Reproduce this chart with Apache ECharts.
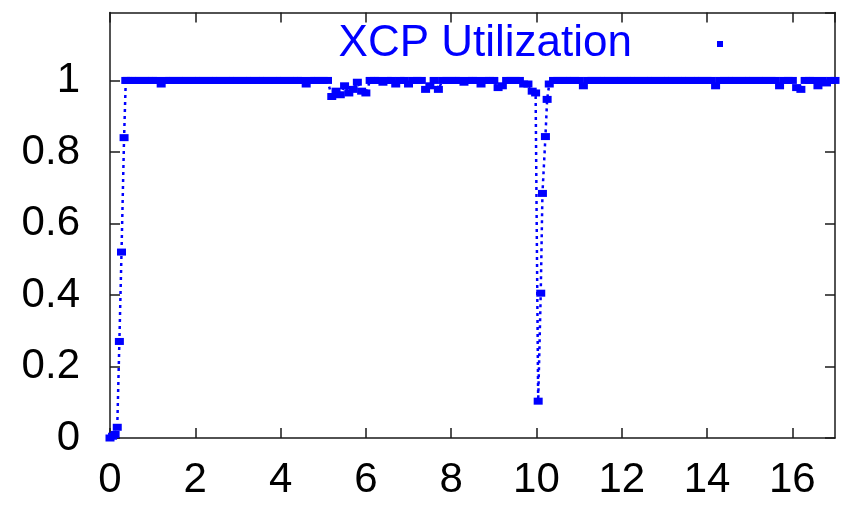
<!DOCTYPE html>
<html>
<head>
<meta charset="utf-8">
<script src="https://cdn.jsdelivr.net/npm/echarts@6/dist/echarts.min.js"></script>
<style>
  html, body { margin: 0; padding: 0; background: #fff; }
  #chart { width: 846px; height: 514px; }
</style>
</head>
<body>
<div id="chart"></div>
<script>
// Time (s) of each sample
const timeSec = [
  0, 0.06, 0.12, 0.17, 0.22, 0.27, 0.33, 0.37,
  0.4, 0.5, 0.6, 0.7, 0.8, 0.9,
  1.0, 1.1, 1.2, 1.3, 1.4, 1.5, 1.6, 1.7, 1.8, 1.9,
  2.0, 2.1, 2.2, 2.3, 2.4, 2.5, 2.6, 2.7, 2.8, 2.9,
  3.0, 3.1, 3.2, 3.3, 3.4, 3.5, 3.6, 3.7, 3.8, 3.9,
  4.0, 4.1, 4.2, 4.3, 4.4, 4.5, 4.6, 4.7, 4.8, 4.9,
  5.0, 5.1, 5.2, 5.3, 5.4, 5.5, 5.6, 5.7, 5.8, 5.9,
  6.0, 6.1, 6.2, 6.3, 6.4, 6.5, 6.6, 6.7, 6.8, 6.9,
  7.0, 7.1, 7.2, 7.3, 7.4, 7.5, 7.6, 7.7, 7.8, 7.9,
  8.0, 8.1, 8.2, 8.3, 8.4, 8.5, 8.6, 8.7, 8.8, 8.9,
  9.0, 9.1, 9.2, 9.3, 9.4, 9.5, 9.6, 9.7, 9.8, 9.9,
  9.98, 10.04, 10.1, 10.14, 10.21, 10.25, 10.3,
  10.4, 10.5, 10.6, 10.7, 10.8, 10.9,
  11.0, 11.1, 11.2, 11.3, 11.4, 11.5, 11.6, 11.7, 11.8, 11.9,
  12.0, 12.1, 12.2, 12.3, 12.4, 12.5, 12.6, 12.7, 12.8, 12.9,
  13.0, 13.1, 13.2, 13.3, 13.4, 13.5, 13.6, 13.7, 13.8, 13.9,
  14.0, 14.1, 14.2, 14.3, 14.4, 14.5, 14.6, 14.7, 14.8, 14.9,
  15.0, 15.1, 15.2, 15.3, 15.4, 15.5, 15.6, 15.7, 15.8, 15.9,
  16.0, 16.1, 16.2, 16.3, 16.4, 16.5, 16.6, 16.7, 16.8, 16.9,
  17.0
];

// XCP utilization at each sample
const utilization = [
  0, 0.005, 0.01, 0.03, 0.27, 0.52, 0.84, 1.0,
  1, 1, 1, 1, 1, 1,
  1, 1, 0.99, 1, 1, 1, 1, 1, 1, 1,
  1, 1, 1, 1, 1, 1, 1, 1, 1, 1,
  1, 1, 1, 1, 1, 1, 1, 1, 1, 1,
  1, 1, 1, 1, 1, 1, 0.99, 1, 1, 1,
  1, 1, 0.955, 0.97, 0.96, 0.985, 0.965, 0.975, 0.995, 0.97,
  0.965, 1, 1, 1, 0.995, 1, 1, 0.99, 1, 1,
  0.99, 1, 1, 1, 0.975, 0.985, 1, 0.975, 1, 1,
  1, 1, 1, 0.995, 1, 1, 1, 0.99, 1, 1,
  1, 0.98, 0.985, 1, 1, 1, 1, 0.99, 0.99, 0.97,
  0.965, 0.103, 0.405, 0.684, 0.843, 0.947, 0.99,
  1, 1, 1, 1, 1, 1,
  1, 0.985, 1, 1, 1, 1, 1, 1, 1, 1,
  1, 1, 1, 1, 1, 1, 1, 1, 1, 1,
  1, 1, 1, 1, 1, 1, 1, 1, 1, 1,
  1, 1, 0.985, 1, 1, 1, 1, 1, 1, 1,
  1, 1, 1, 1, 1, 1, 1, 0.985, 1, 1,
  1, 0.98, 0.975, 1, 1, 1, 0.985, 1, 0.993, 1,
  1
];

const seriesName = 'XCP Utilization';
const xRange = [0, 17];
const xStep = 2;
const yRange = [0, 1.19];
const yStep = 0.2;

const BLUE = '#0000ff';
const AXIS = '#1a1a1a';
const FONT = '"Liberation Sans", Arial, Helvetica, sans-serif';

const chart = echarts.init(document.getElementById('chart'), null, { renderer: 'canvas' });

const pts = timeSec.map((t, i) => [t, utilization[i]]);

const axisCommon = {
  axisLine: { show: true, onZero: false, lineStyle: { color: AXIS, width: 1.5 } },
  axisTick: { show: true, inside: true, length: 10, lineStyle: { color: AXIS, width: 1.5 } },
  splitLine: { show: false }
};

chart.setOption({
  animation: false,
  backgroundColor: '#ffffff',
  grid: { left: 110, right: 11, top: 12.5, bottom: 76, containLabel: false },
  legend: {
    show: true,
    data: [seriesName],
    right: 123,
    top: 22,
    padding: 0,
    align: 'right',
    icon: 'rect',
    itemWidth: 6,
    itemHeight: 6,
    selectedMode: false,
    textStyle: { color: BLUE, fontSize: 44, fontFamily: FONT, padding: [0, 80, 0, 0] }
  },
  xAxis: [
    Object.assign({}, axisCommon, {
      type: 'value', position: 'bottom', min: xRange[0], max: xRange[1], interval: xStep,
      axisLabel: { show: true, showMaxLabel: false, margin: 21, color: '#000', fontSize: 42, fontFamily: FONT }
    }),
    Object.assign({}, axisCommon, {
      type: 'value', position: 'top', min: xRange[0], max: xRange[1], interval: xStep,
      axisLabel: { show: false }
    })
  ],
  yAxis: [
    Object.assign({}, axisCommon, {
      type: 'value', position: 'left', min: yRange[0], max: yRange[1], interval: yStep,
      axisLabel: { show: true, showMaxLabel: false, margin: 30, color: '#000', fontSize: 42, fontFamily: FONT }
    }),
    Object.assign({}, axisCommon, {
      type: 'value', position: 'right', min: yRange[0], max: yRange[1], interval: yStep,
      axisLabel: { show: false }
    })
  ],
  series: [{
    name: seriesName,
    type: 'line',
    xAxisIndex: 0,
    yAxisIndex: 0,
    data: pts,
    clip: true,
    showSymbol: true,
    showAllSymbol: true,
    symbol: 'rect',
    symbolSize: [9, 7],
    itemStyle: { color: BLUE },
    lineStyle: { color: BLUE, width: 2.5, type: [3, 4] },
    emphasis: { disabled: true }
  }]
});
</script>
</body>
</html>
